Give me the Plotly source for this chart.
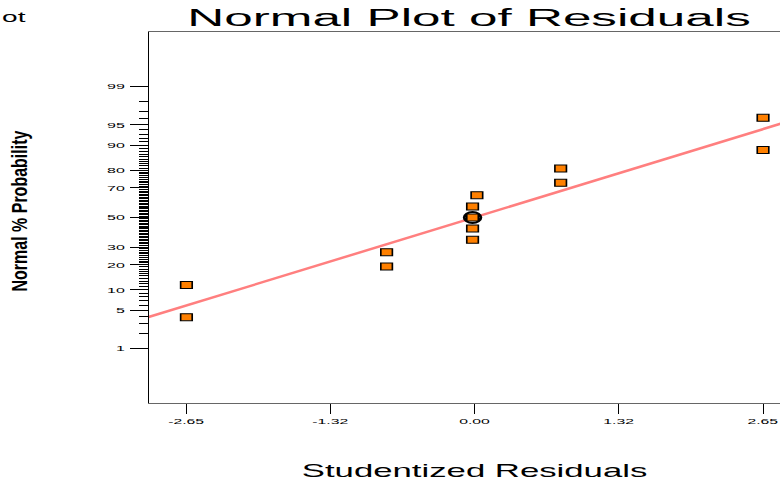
from statistics import NormalDist
import plotly.graph_objects as go

# ---- data ----
residuals = [-2.65, -2.65, -0.81, -0.81, -0.02, -0.02, -0.02, -0.02, 0.02, 0.79, 0.79, 2.65, 2.65]
normal_pct = [3.85, 11.54, 19.23, 26.92, 34.62, 42.31, 50.0, 57.69, 65.38, 73.08, 80.77, 88.46, 96.15]
highlight_index = 6
fit_x = [-3.0, 3.0]
fit_pct = [3.86, 96.2]
major_pct = [1, 5, 10, 20, 30, 50, 70, 80, 90, 95, 99]
minor_pct = [p for p in range(1, 100) if p not in major_pct]
x_tickvals = [-2.65, -1.325, 0.0, 1.325, 2.65]
x_ticktext = ["-2.65", "-1.32", "0.00", "1.32", "2.65"]
y_limits_pct = [0.05, 99.95]

nd = NormalDist()


def z(p):
    return nd.inv_cdf(p / 100.0)


fig = go.Figure()
fig.add_trace(go.Scatter(
    x=fit_x, y=[z(p) for p in fit_pct], mode="lines",
    line=dict(color="#ff7f7f", width=2.5), hoverinfo="skip", showlegend=False))
fig.add_trace(go.Scatter(
    x=[residuals[highlight_index]], y=[z(normal_pct[highlight_index])], mode="markers",
    marker=dict(symbol="circle-open", size=11, color="black", line=dict(width=2, color="black")),
    hoverinfo="skip", showlegend=False))
fig.add_trace(go.Scatter(
    x=residuals, y=[z(p) for p in normal_pct], mode="markers",
    marker=dict(symbol="square", size=7, color="#ff8000", line=dict(color="black", width=1)),
    showlegend=False))

font_family = "Liberation Sans, Arial, sans-serif"
fig.update_layout(
    width=780, height=484,
    margin=dict(l=149, r=0, t=32, b=81, pad=0),
    paper_bgcolor="white", plot_bgcolor="white", showlegend=False,
    font=dict(family=font_family, color="black"),
    title=dict(text="Normal Plot of Residuals", x=469 / 780, xanchor="center",
               y=1 - 17.5 / 484, yanchor="middle", font=dict(size=23.5, color="black")),
    xaxis=dict(range=[-2.994, 2.806], tickvals=x_tickvals, ticktext=x_ticktext,
               ticks="outside", ticklen=10, tickcolor="black", tickwidth=1,
               showline=True, linecolor="#666666", linewidth=1, mirror=True,
               showgrid=False, zeroline=False, tickfont=dict(size=8, color="black")),
    yaxis=dict(range=[z(y_limits_pct[0]), z(y_limits_pct[1])],
               tickvals=[z(p) for p in major_pct], ticktext=[str(p) for p in major_pct],
               ticks="outside", ticklen=18, tickcolor="black", tickwidth=1,
               ticklabelstandoff=3,
               showline=True, linecolor="black", linewidth=1, mirror=False,
               showgrid=False, zeroline=False, tickfont=dict(size=8, color="black"),
               minor=dict(tickmode="array", tickvals=[z(p) for p in minor_pct],
                          ticks="outside", ticklen=9, tickcolor="black", tickwidth=1,
                          showgrid=False)),
    annotations=[
        dict(text="Studentized Residuals", xref="x", x=0.0, yref="paper", y=(403 - 471) / 371,
             xanchor="center", yanchor="middle", showarrow=False, font=dict(size=18, color="black")),
        dict(text="Normal % Probability", xref="paper", x=(20 - 149) / 631, yref="paper",
             y=(403 - 211.5) / 371, textangle=-90, xanchor="center", yanchor="middle",
             showarrow=False, font=dict(size=16, color="black", weight="bold")),
        dict(text="ot", xref="paper", x=(14 - 149) / 631, yref="paper", y=(403 - 16.5) / 371,
             xanchor="center", yanchor="middle", showarrow=False, font=dict(size=14, color="black")),
    ],
)

post = r"""
(function(){
var gd = document.getElementById('{plot_id}');
if (!gd) return;
function st(el, sx, sy, mode){
  if (el.getAttribute('data-st')) return;
  var bb; try { bb = el.getBBox(); } catch(e) { return; }
  var a = mode || el.getAttribute('text-anchor') || 'start';
  var px = a === 'end' ? bb.x + bb.width : (a === 'start' ? bb.x : bb.x + bb.width / 2);
  var py = bb.y + bb.height / 2;
  var tr = el.getAttribute('transform') || '';
  el.setAttribute('transform', tr + ' translate(' + px + ',' + py + ') scale(' + sx + ',' + sy + ') translate(' + (-px) + ',' + (-py) + ')');
  el.setAttribute('data-st', '1');
}
function each(list, sx, sy, mode){ for (var i = 0; i < list.length; i++) st(list[i], sx, sy, mode); }
function apply(){
  each(gd.querySelectorAll('.gtitle'), 2.18, 1, 'middle');
  each(gd.querySelectorAll('.xtick text'), 1.97, 1, 'middle');
  each(gd.querySelectorAll('.ytick text'), 2.0, 1, 'end');
  var ann = gd.querySelectorAll('.annotation-text');
  if (ann.length > 0) st(ann[0], 1.93, 1, 'middle');
  if (ann.length > 1) st(ann[1], 1, 1.35, 'middle');
  if (ann.length > 2) st(ann[2], 2.0, 1, 'middle');
  var tr = gd.querySelectorAll('.scatterlayer .trace');
  if (tr.length > 1) each(tr[1].querySelectorAll('.point'), 1.5, 1, 'middle');
  if (tr.length > 2) each(tr[2].querySelectorAll('.point'), 1.65, 1, 'middle');
}
apply();
setTimeout(apply, 0);
if (gd.on) gd.on('plotly_afterplot', apply);
})();
"""

fig.write_html("out.html", post_script=post)
